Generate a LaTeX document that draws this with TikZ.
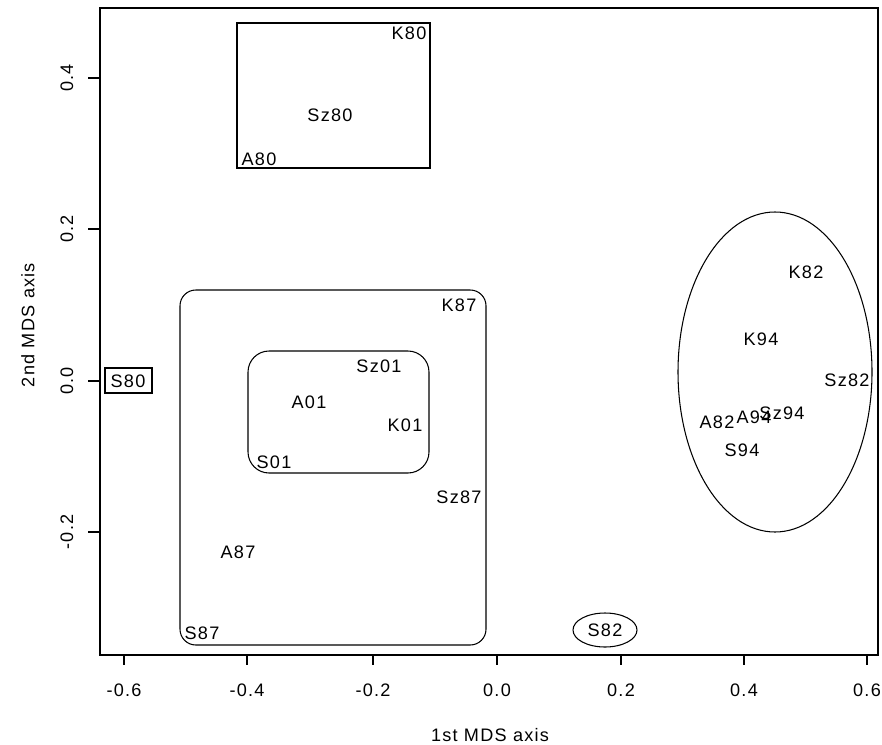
\documentclass[tikz,border=0pt]{standalone}
\usepackage{fontspec}
\setmainfont{Liberation Sans}[LetterSpace=7]
\begin{document}
\begin{tikzpicture}[x=0.02cm,y=-0.02cm,
  lbl/.style={inner sep=0pt,font=\fontsize{10.3}{12}\selectfont},
  frame/.style={line width=0.9pt},
  grp/.style={line width=0.6pt},
  tick/.style={line width=0.8pt}]
\useasboundingbox (0,0) rectangle (882,744);
% frame
\draw[frame] (100,8) rectangle (878,655);
% x ticks
\foreach \x/\t [count=\i] in {124/-0.6,247/-0.4,373/-0.2,497/0.0,621/0.2,744/0.4,867/0.6}{
  \draw[tick] (\x,655) -- (\x,665);
  \node[lbl] (xt\i) at (\x,690) {\t};
}
% y ticks
\foreach \y/\t [count=\i] in {78/0.4,229/0.2,381/0.0,532/-0.2}{
  \draw[tick] (88,\y) -- (100,\y);
  \node[lbl,rotate=90] (yt\i) at (67,\y) {\t};
}
\node[lbl] (xlab) at (490,735) {1st MDS axis};
\node[lbl,rotate=90] (ylab) at (28,325) {2nd MDS axis};
% groups
\draw[grp] (237,23) rectangle (430,168);
\draw[grp] (105,368) rectangle (152,393);
\draw[grp,rounded corners=9] (180,290) rectangle (486,645);
\draw[grp,rounded corners=12] (248,351) rectangle (429,473);
\draw[grp] (775,372) ellipse [x radius=97, y radius=160];
\draw[grp] (605,630) ellipse [x radius=32, y radius=17];
% labels
\node[lbl] (K80) at (409,33) {K80};
\node[lbl] (Sz80) at (330,115) {Sz80};
\node[lbl] (A80) at (259,159) {A80};
\node[lbl] (S80) at (128,381) {S80};
\node[lbl] (K87) at (459,305) {K87};
\node[lbl] (Sz87) at (459,497) {Sz87};
\node[lbl] (A87) at (238,552) {A87};
\node[lbl] (S87) at (202,633) {S87};
\node[lbl] (Sz01) at (379,366) {Sz01};
\node[lbl] (A01) at (309,402) {A01};
\node[lbl] (K01) at (405,425) {K01};
\node[lbl] (S01) at (274,462) {S01};
\node[lbl] (K82) at (806,272) {K82};
\node[lbl] (K94) at (761,339) {K94};
\node[lbl] (Sz82) at (847,380) {Sz82};
\node[lbl] (A82) at (717,422) {A82};
\node[lbl] (A94) at (754,417) {A94};
\node[lbl] (Sz94) at (782,413) {Sz94};
\node[lbl] (S94) at (742,450) {S94};
\node[lbl] (S82) at (605,630) {S82};
\end{tikzpicture}
\end{document}
